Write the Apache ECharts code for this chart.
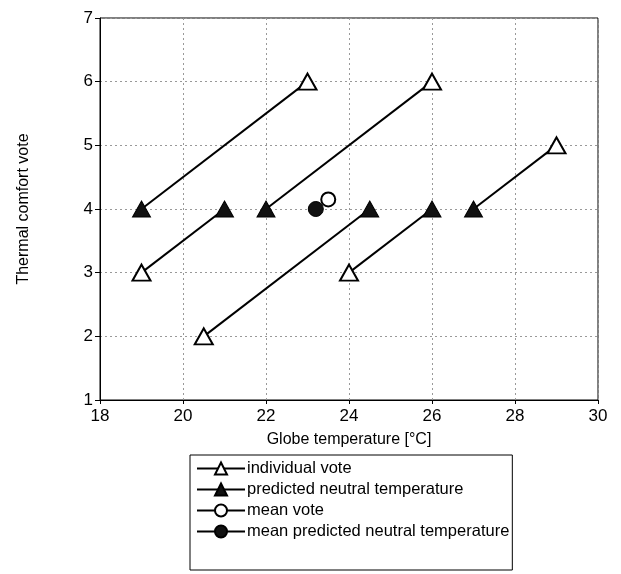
<!DOCTYPE html>
<html>
<head>
<meta charset="utf-8">
<script src="https://cdn.jsdelivr.net/npm/echarts@6/dist/echarts.min.js"></script>
<style>
  html, body { margin: 0; padding: 0; background: #fff; }
  #main { width: 621px; height: 574px; }
</style>
</head>
<body>
<div id="main"></div>
<script>
// individual votes (open triangles) and the predicted neutral temperature each one maps to
var voteX = [23, 19, 26, 20.5, 24, 29];
var voteY = [6, 3, 6, 2, 3, 5];
var neutralX = [19, 21, 22, 24.5, 26, 27];
var neutralY = [4, 4, 4, 4, 4, 4];
var meanVote = [23.5, 4.15];
var meanNeutral = [23.2, 4.0];
var xTicks = [18, 20, 22, 24, 26, 28, 30];
var yTicks = [1, 2, 3, 4, 5, 6, 7];

var legendNames = ['individual vote', 'predicted neutral temperature', 'mean vote', 'mean predicted neutral temperature'];

var myChart = echarts.init(document.getElementById('main'));
var font = 'Liberation Sans, Arial, sans-serif';

var series = [];
// connecting segments
for (var i = 0; i < voteX.length; i++) {
    series.push({
        type: 'line',
        name: 'seg' + i,
        symbol: 'none',
        silent: true,
        lineStyle: { color: '#000', width: 2 },
        data: [[voteX[i], voteY[i]], [neutralX[i], neutralY[i]]]
    });
}
var votePts = voteX.map(function (x, i) { return [x, voteY[i]]; });
var neutralPts = neutralX.map(function (x, i) { return [x, neutralY[i]]; });

series.push({
    type: 'line', name: legendNames[0],
    symbol: 'triangle', symbolSize: [18, 16],
    lineStyle: { width: 0, opacity: 0 },
    itemStyle: { color: '#fff', borderColor: '#000', borderWidth: 2 },
    data: votePts
});
series.push({
    type: 'line', name: legendNames[1],
    symbol: 'triangle', symbolSize: [18, 16],
    lineStyle: { width: 0, opacity: 0 },
    itemStyle: { color: '#111', borderColor: '#000', borderWidth: 1 },
    data: neutralPts
});
series.push({
    type: 'line', name: legendNames[2],
    symbol: 'circle', symbolSize: 14,
    lineStyle: { width: 0, opacity: 0 },
    itemStyle: { color: '#fff', borderColor: '#000', borderWidth: 2 },
    data: [meanVote]
});
series.push({
    type: 'line', name: legendNames[3],
    symbol: 'circle', symbolSize: 15,
    lineStyle: { width: 0, opacity: 0 },
    itemStyle: { color: '#111', borderColor: '#000', borderWidth: 1 },
    data: [meanNeutral]
});

var option = {
    animation: false,
    backgroundColor: '#fff',
    grid: {
        left: 100, right: 23, top: 18, bottom: 174,
        show: true, borderColor: '#000', borderWidth: 1
    },
    legend: {
        data: legendNames,
        orient: 'vertical',
        left: 190, top: 455,
        padding: [5, 3, 30, 6],
        itemWidth: 48, itemHeight: 15,
        itemGap: 4,
        borderColor: '#000', borderWidth: 1, borderRadius: 0,
        lineStyle: { color: '#000', width: 2, opacity: 1 },
        textStyle: { fontFamily: font, fontSize: 16.5, color: '#000', padding: [0, 0, 0, -3] }
    },
    xAxis: {
        type: 'value', min: xTicks[0], max: xTicks[xTicks.length - 1], interval: 2,
        name: 'Globe temperature [°C]', nameLocation: 'middle', nameGap: 32,
        nameTextStyle: { fontFamily: font, fontSize: 16, color: '#000' },
        axisLine: { lineStyle: { color: '#000' } },
        axisTick: { inside: false, length: 4, lineStyle: { color: '#000' } },
        axisLabel: { fontFamily: font, fontSize: 17, color: '#000', margin: 8 },
        splitLine: { lineStyle: { color: '#999', type: [2, 3], width: 1 } }
    },
    yAxis: {
        type: 'value', min: yTicks[0], max: yTicks[yTicks.length - 1], interval: 1,
        name: 'Thermal comfort vote', nameLocation: 'middle', nameGap: 68,
        nameTextStyle: { fontFamily: font, fontSize: 16, color: '#000' },
        axisLine: { show: true, lineStyle: { color: '#000' } },
        axisTick: { show: true, length: 5, lineStyle: { color: '#000' } },
        axisLabel: { fontFamily: font, fontSize: 17, color: '#000', margin: 7 },
        splitLine: { lineStyle: { color: '#999', type: [2, 3], width: 1 } }
    },
    series: series
};
myChart.setOption(option);
</script>
</body>
</html>
